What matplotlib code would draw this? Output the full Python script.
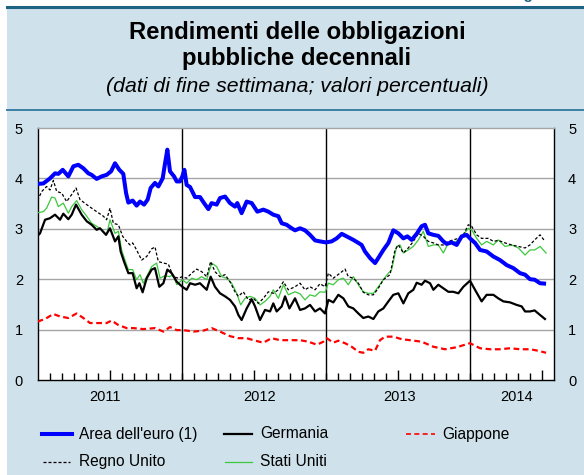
import matplotlib
matplotlib.use("Agg")
import matplotlib.pyplot as plt
from matplotlib.lines import Line2D
from matplotlib.patches import Rectangle

plt.rcParams['font.family'] = ['Liberation Sans', 'DejaVu Sans']

# ---- data (x = months since 1 Jan 2011, y = percent) ----
euro_x = [0.0, 0.49, 1.04, 1.46, 1.74, 2.10, 2.57, 2.99, 3.40, 3.82, 4.24, 4.51, 4.93, 5.35, 5.76,
          6.13, 6.46, 6.82, 7.15, 7.38, 7.57, 7.93, 8.26, 8.54, 8.88, 9.18, 9.43, 9.79, 10.07, 10.43,
          10.63, 10.82, 11.04, 11.38, 11.60, 11.88, 12.07, 12.24, 12.43, 12.71, 13.13, 13.54, 13.88,
          14.24, 14.51, 14.93, 15.21, 15.63, 16.04, 16.46, 16.65, 17.01, 17.43, 17.85, 18.32, 18.82,
          19.24, 19.65, 20.07, 20.35, 20.76, 21.18, 21.46, 21.88, 22.29, 22.71, 23.13, 23.54, 24.04,
          24.51, 24.93, 25.35, 25.76, 26.32, 26.74, 27.01, 27.29, 27.71, 28.13, 28.40, 28.82, 29.24,
          29.65, 30.07, 30.49, 30.82, 31.18, 31.60, 32.01, 32.29, 32.57, 32.99, 33.40, 33.82, 34.10,
          34.51, 34.93, 35.35, 35.76, 36.04, 36.46, 36.88, 37.43, 37.99, 38.54, 39.10, 39.65, 40.21,
          40.63, 41.04, 41.43, 41.88, 42.38]
euro_y = [3.89, 3.90, 4.00, 4.10, 4.09, 4.17, 4.04, 4.24, 4.27, 4.20, 4.10, 4.07, 3.99, 4.04, 4.07,
          4.14, 4.30, 4.17, 4.09, 3.71, 3.52, 3.56, 3.46, 3.54, 3.48, 3.58, 3.81, 3.91, 3.84, 4.00,
          4.30, 4.57, 4.14, 4.04, 3.94, 3.94, 4.04, 4.17, 3.87, 3.83, 3.63, 3.63, 3.51,
          3.39, 3.51, 3.48, 3.61, 3.64, 3.51, 3.44, 3.51, 3.31, 3.54, 3.51, 3.34, 3.38,
          3.34, 3.28, 3.25, 3.11, 3.08, 3.01, 2.97, 3.01, 2.97, 2.88, 2.77, 2.75, 2.73,
          2.75, 2.81, 2.90, 2.85, 2.78, 2.72, 2.68, 2.55, 2.42, 2.32, 2.42, 2.58, 2.72,
          2.97, 2.91, 2.81, 2.85, 2.78, 2.90, 3.05, 3.08, 2.91, 2.88, 2.86, 2.75, 2.70,
          2.73, 2.68, 2.85, 2.88, 2.81, 2.72, 2.58, 2.55, 2.45, 2.38, 2.28, 2.22, 2.12,
          2.09, 2.00, 1.99, 1.92, 1.91]

ger_x = [0.0, 0.21, 0.63, 1.04, 1.46, 1.88, 2.15, 2.57, 2.85, 3.21, 3.68, 4.10, 4.51, 4.93, 5.21,
         5.71, 6.04, 6.46, 6.74, 6.93, 7.21, 7.57, 7.93, 8.26, 8.49, 8.76, 9.10, 9.51, 9.79, 10.15,
         10.49, 10.82, 11.18, 11.60, 12.07, 12.43, 12.71, 13.13, 13.54, 14.10, 14.43, 14.79, 15.21,
         15.63, 16.04, 16.46, 16.74, 17.01, 17.43, 17.85, 18.13, 18.54, 18.96, 19.38, 19.65, 19.93,
         20.35, 20.63, 20.99, 21.46, 21.88, 22.29, 22.71, 23.13, 23.54, 23.96, 24.24, 24.65, 25.07,
         25.49, 25.90, 26.32, 26.74, 27.15, 27.57, 27.99, 28.40, 28.82, 29.24, 29.65, 30.07, 30.49,
         30.90, 31.32, 31.60, 32.01, 32.29, 32.71, 32.99, 33.40, 33.82, 34.24, 34.65, 35.07, 35.49,
         36.04, 36.46, 37.01, 37.43, 37.99, 38.40, 38.82, 39.38, 39.93, 40.35, 40.63, 41.04, 41.43,
         41.88, 42.29]
ger_y = [2.86, 2.91, 3.18, 3.21, 3.28, 3.18, 3.30, 3.19, 3.28, 3.48, 3.28, 3.15, 3.08, 2.98, 3.01,
         2.88, 3.01, 2.75, 2.85, 2.55, 2.35, 2.12, 2.12, 1.82, 1.92, 1.74, 2.02, 2.19, 2.22, 1.85,
         1.92, 2.19, 2.12, 1.95, 1.85, 1.79, 1.92, 1.89, 1.92, 1.79, 2.05, 1.85, 1.72,
         1.66, 1.59, 1.46, 1.29, 1.19, 1.42, 1.60, 1.46, 1.19, 1.39, 1.36, 1.52, 1.36,
         1.46, 1.66, 1.42, 1.62, 1.39, 1.42, 1.49, 1.36, 1.42, 1.32, 1.59, 1.54, 1.69,
         1.62, 1.46, 1.42, 1.32, 1.23, 1.26, 1.21, 1.36, 1.42, 1.56, 1.69, 1.72, 1.52,
         1.72, 1.79, 1.93, 1.89, 1.97, 1.92, 1.79, 1.89, 1.82, 1.75, 1.75, 1.72, 1.85,
         1.97, 1.79, 1.56, 1.69, 1.69, 1.62, 1.56, 1.54, 1.49, 1.46, 1.36, 1.36, 1.38,
         1.29, 1.21]

jap_x = [0.0, 0.63, 1.32, 1.88, 2.57, 3.26, 3.82, 4.38, 5.21, 5.76, 6.18, 6.74, 7.43, 7.99, 8.82,
         9.79, 10.49, 11.04, 11.60, 12.15, 12.99, 13.82, 14.51, 15.21, 16.04, 16.74, 17.43, 17.99,
         18.82, 19.51, 20.21, 21.04, 21.88, 22.57, 23.29, 23.82, 24.10, 24.65, 25.07, 25.63, 26.18,
         26.74, 27.15, 27.57, 28.13, 28.54, 28.96, 29.65, 30.35, 31.04, 32.01, 32.99, 33.96, 34.93,
         36.04, 36.88, 37.71, 38.54, 39.38, 40.21, 41.04, 41.74, 42.38]
jap_y = [1.16, 1.21, 1.31, 1.26, 1.23, 1.32, 1.23, 1.13, 1.13, 1.13, 1.18, 1.09, 1.03, 1.03, 1.01,
         1.03, 0.96, 1.05, 0.99, 0.99, 0.96, 0.98, 1.03, 0.96, 0.87, 0.83, 0.83, 0.79,
         0.74, 0.83, 0.79, 0.79, 0.79, 0.76, 0.70, 0.76, 0.83, 0.74, 0.78, 0.73, 0.66,
         0.56, 0.54, 0.61, 0.58, 0.79, 0.86, 0.86, 0.81, 0.79, 0.76, 0.66, 0.61, 0.65,
         0.73, 0.63, 0.61, 0.61, 0.63, 0.61, 0.61, 0.58, 0.54]

uk_x = [0.0, 0.35, 0.76, 1.04, 1.32, 1.60, 2.01, 2.43, 2.85, 3.21, 3.54, 4.10, 4.51, 4.93, 5.49,
        5.76, 6.04, 6.32, 6.74, 7.10, 7.43, 7.71, 7.93, 8.26, 8.68, 9.10, 9.51, 9.79, 10.07, 10.49,
        10.90, 11.32, 11.74, 12.07, 12.43, 12.85, 13.26, 13.68, 14.10, 14.43, 14.79, 15.21, 15.63,
        16.04, 16.46, 16.74, 17.15, 17.57, 17.99, 18.40, 18.82, 19.24, 19.65, 20.07, 20.49, 20.90,
        21.46, 21.88, 22.29, 22.71, 23.13, 23.54, 23.96, 24.24, 24.65, 25.21, 25.63, 25.90, 26.32,
        26.74, 27.15, 27.57, 27.99, 28.40, 28.82, 29.38, 29.79, 30.07, 30.49, 30.90, 31.32, 31.74,
        32.15, 32.57, 32.99, 33.40, 33.82, 34.24, 34.65, 35.07, 35.49, 35.90, 36.18, 36.60, 37.01,
        37.57, 37.99, 38.40, 38.96, 39.51, 40.07, 40.63, 41.04, 41.43, 41.88, 42.29]
uk_y = [3.56, 3.74, 3.84, 3.77, 3.96, 3.74, 3.71, 3.54, 3.68, 3.81, 3.58, 3.48, 3.41, 3.34, 3.25,
        3.18, 3.41, 3.11, 3.08, 2.85, 2.75, 2.68, 2.72, 2.58, 2.38, 2.45, 2.60, 2.64, 2.35, 2.32,
        2.30, 2.05, 2.02, 2.05, 2.02, 2.12, 2.20, 2.15, 2.05, 2.35, 2.15, 2.05, 2.09,
        1.95, 1.75, 1.66, 1.75, 1.59, 1.62, 1.52, 1.62, 1.75, 1.72, 1.79, 1.95, 1.79,
        1.85, 1.92, 1.79, 1.85, 1.79, 1.91, 1.85, 2.12, 2.02, 2.12, 2.20, 2.05, 2.02,
        1.92, 1.74, 1.69, 1.69, 1.82, 1.99, 2.09, 2.58, 2.68, 2.52, 2.62, 2.75, 2.91,
        2.85, 2.75, 2.72, 2.68, 2.68, 2.75, 2.78, 2.81, 2.88, 3.08, 3.05, 2.88, 2.81,
        2.81, 2.75, 2.77, 2.72, 2.68, 2.65, 2.62, 2.68, 2.78, 2.88, 2.75]

us_x = [0.0, 0.49, 0.76, 1.18, 1.46, 1.74, 2.15, 2.57, 2.85, 3.26, 3.68, 4.10, 4.51, 4.93, 5.35,
        5.76, 6.04, 6.46, 6.74, 7.01, 7.29, 7.57, 7.93, 8.26, 8.54, 8.82, 9.24, 9.51, 9.93, 10.21,
        10.63, 10.99, 11.32, 11.60, 12.07, 12.43, 12.85, 13.26, 13.68, 14.10, 14.51, 14.93, 15.35,
        15.76, 16.18, 16.60, 16.93, 17.29, 17.71, 18.13, 18.54, 18.96, 19.38, 19.65, 20.07, 20.49,
        20.90, 21.46, 21.88, 22.29, 22.71, 23.13, 23.54, 23.96, 24.24, 24.65, 25.07, 25.49, 25.90,
        26.32, 26.74, 27.15, 27.57, 27.99, 28.40, 28.82, 29.24, 29.51, 29.93, 30.21, 30.49, 30.90,
        31.32, 31.74, 32.15, 32.57, 32.99, 33.40, 33.82, 34.24, 34.65, 35.07, 35.49, 35.90, 36.18,
        36.60, 37.01, 37.43, 37.99, 38.40, 38.96, 39.51, 40.07, 40.63, 41.04, 41.43, 41.88, 42.38]
us_y = [3.32, 3.34, 3.41, 3.63, 3.61, 3.44, 3.51, 3.31, 3.44, 3.56, 3.38, 3.25, 3.11, 3.05, 2.98,
        2.88, 3.18, 2.91, 2.95, 2.58, 2.38, 2.19, 2.19, 1.99, 2.09, 1.92, 2.12, 2.25, 2.32, 2.02,
        2.07, 2.05, 2.09, 1.89, 1.99, 1.92, 2.02, 1.99, 2.05, 1.99, 2.32, 2.25, 2.05,
        2.02, 1.92, 1.72, 1.49, 1.62, 1.66, 1.62, 1.49, 1.56, 1.66, 1.79, 1.62, 1.89,
        1.69, 1.75, 1.71, 1.59, 1.69, 1.66, 1.75, 1.74, 1.92, 1.89, 1.99, 2.02, 1.89,
        2.05, 1.89, 1.75, 1.72, 1.72, 1.85, 1.99, 2.12, 2.19, 2.65, 2.68, 2.52, 2.58,
        2.65, 2.78, 2.95, 2.65, 2.68, 2.68, 2.52, 2.72, 2.72, 2.78, 2.88, 3.01, 2.98,
        2.81, 2.68, 2.75, 2.68, 2.78, 2.65, 2.68, 2.62, 2.48, 2.58, 2.58, 2.65, 2.52]

year_labels = ['2011', '2012', '2013', '2014']
year_label_pos = [5.6, 18.5, 30.2, 39.9]
year_breaks = [12, 24, 36]
y_ticks = [0, 1, 2, 3, 4, 5]

title1 = 'Rendimenti delle obbligazioni'
title2 = 'pubbliche decennali'
subtitle = '(dati di fine settimana; valori percentuali)'

# ---- figure ----
W, H = 584, 475
fig = plt.figure(figsize=(W / 100, H / 100), dpi=100)
fig.patch.set_facecolor('white')

def fx(p):
    return p / W

def fy(p):
    return 1 - p / H

panel_col = '#cfe1ea'
teal = '#1d6384'
fig.patches.append(Rectangle((fx(7), 0), 1 - fx(7), fy(7.5), transform=fig.transFigure,
                             facecolor=panel_col, edgecolor='none', zorder=-5))
fig.lines.append(Line2D([fx(7), 1], [fy(6.8), fy(6.8)], transform=fig.transFigure,
                        color=teal, lw=2.2, zorder=-4))
fig.lines.append(Line2D([fx(7), 1], [fy(109.5), fy(109.5)], transform=fig.transFigure,
                        color='#3b7fa3', lw=1.4, zorder=-4))
fig.text(fx(510), fy(-1.0), 'Figura 3', color=teal, fontsize=11, fontweight='bold',
         ha='left', va='baseline')

fig.text(fx(297), fy(33), title1, ha='center', va='center', fontsize=17.2, fontweight='bold')
fig.text(fx(297), fy(58), title2, ha='center', va='center', fontsize=17.2, fontweight='bold')
fig.text(fx(297), fy(87), subtitle, ha='center', va='center', fontsize=15.3, style='italic')

ax = fig.add_axes([fx(37.5), 1 - 380 / H, (553.5 - 37.5) / W, (380 - 128) / H])
ax.set_zorder(2)
ax.set_facecolor('white')
ax.set_xlim(0, 43)
ax.set_ylim(0, 5)

for v in [1, 2, 3, 4]:
    ax.axhline(v, color='#a6a6a6', lw=1.0, zorder=1)
for b in year_breaks:
    ax.axvline(b, color='black', lw=1.0, zorder=1)

ax.plot(jap_x, jap_y, color='#ff0000', lw=1.6, dashes=(2.6, 1.6), zorder=3)
ax.plot(us_x, us_y, color='#3cc83c', lw=0.9, zorder=4)
ax.plot(uk_x, uk_y, color='black', lw=0.9, dashes=(2.4, 1.6), zorder=4)
ax.plot(ger_x, ger_y, color='black', lw=1.6, zorder=5)
ax.plot(euro_x, euro_y, color='#0000ff', lw=2.9, zorder=6, solid_capstyle='butt')

for side in ['left', 'right', 'bottom']:
    ax.spines[side].set_color('black')
    ax.spines[side].set_linewidth(1.0)
ax.spines['top'].set_color('#a6a6a6')
ax.spines['top'].set_linewidth(1.0)

ax.set_yticks(y_ticks)
ax.tick_params(axis='y', length=0, pad=10.5, labelsize=10.5, labelleft=True, labelright=True)

major = [6, 18, 30, 42]
minor = [m for m in range(1, 43) if m not in major]
ax.set_xticks(major)
ax.set_xticklabels([])
ax.set_xticks(minor, minor=True)
ax.tick_params(axis='x', which='major', direction='in', length=7, width=1, color='black')
ax.tick_params(axis='x', which='minor', direction='in', length=5, width=1, color='black')

for lab, pos in zip(year_labels, year_label_pos):
    ax.text(pos, -0.34, lab, ha='center', va='center', fontsize=10.5)

# ---- legend (manual) ----
def leg(x0, x1, y, text, tx, **kw):
    fig.lines.append(Line2D([fx(x0), fx(x1)], [fy(y), fy(y)], transform=fig.transFigure, **kw))
    fig.text(fx(tx), fy(y), text, ha='left', va='center', fontsize=11.2)

leg(41.7, 71.7, 434, "Area dell'euro (1)", 79.3, color='#0000ff', lw=2.9)
leg(224, 252, 434, 'Germania', 260, color='black', lw=1.6)
leg(406, 435, 434, 'Giappone', 442.7, color='#ff0000', lw=1.2, dashes=(3, 2))
leg(42.7, 70, 461.7, 'Regno Unito', 79.3, color='black', lw=0.9, dashes=(2.4, 1.6))
leg(225, 252, 461.7, 'Stati Uniti', 260, color='#3cc83c', lw=0.9)

fig.savefig('out.png', dpi=100, facecolor=fig.get_facecolor())
